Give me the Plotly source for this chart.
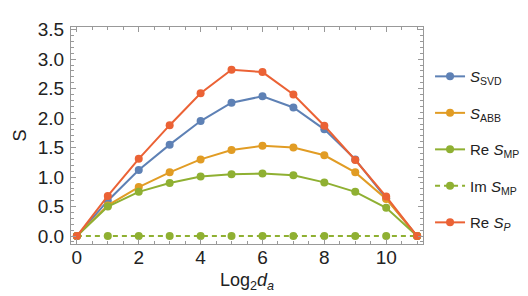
import plotly.graph_objects as go

x = list(range(12))
s_svd = [0, 0.60, 1.12, 1.55, 1.95, 2.26, 2.37, 2.18, 1.81, 1.30, 0.64, 0]
s_abb = [0, 0.52, 0.83, 1.08, 1.30, 1.46, 1.53, 1.50, 1.37, 1.08, 0.63, 0]
re_smp = [0, 0.50, 0.75, 0.90, 1.01, 1.05, 1.06, 1.03, 0.91, 0.75, 0.48, 0]
im_smp = [0, 0, 0, 0, 0, 0, 0, 0, 0, 0, 0, 0]
re_sp = [0, 0.68, 1.31, 1.88, 2.42, 2.82, 2.78, 2.40, 1.87, 1.29, 0.67, 0]

names = ["<i>S</i><sub>SVD</sub>", "<i>S</i><sub>ABB</sub>", "Re <i>S</i><sub>MP</sub>",
         "Im <i>S</i><sub>MP</sub>", "Re <i>S<sub>P</sub></i>"]
colors = ["#5E81B5", "#E19C24", "#8FB032", "#8FB032", "#EB6235"]
dashes = ["solid", "solid", "solid", "5px,4px", "solid"]
series = [s_svd, s_abb, re_smp, im_smp, re_sp]

fig = go.Figure()
for i, (nm, c, d, ys) in enumerate(zip(names, colors, dashes, series)):
    fig.add_trace(go.Scatter(
        x=x, y=ys, name=nm, mode="lines+markers",
        line=dict(color=c, width=2, dash=d),
        marker=dict(color=c, size=8),
        legendgroup=str(i),
    ))

font_family = "Liberation Sans, Arial"
axis_common = dict(
    showline=True, linecolor="#999999", linewidth=1, mirror="allticks",
    ticks="inside", tickcolor="#999999", ticklen=5, tickwidth=1,
    showgrid=False, zeroline=False,
    tickfont=dict(family=font_family, size=19, color="#222222"),
)
fig.update_xaxes(range=[-0.19, 11.19], dtick=2, tick0=0, ticklabelstandoff=-4,
                 minor=dict(dtick=0.5, ticklen=3, tickcolor="#999999", ticks="inside"),
                 title=dict(text="Log<sub>2</sub><i>d<sub>a</sub></i>",
                            font=dict(family=font_family, size=18, color="#222222"),
                            standoff=6),
                 **axis_common)
fig.update_yaxes(range=[-0.134, 3.544], dtick=0.5, tick0=0, tickformat=".1f",
                 ticklabelstandoff=2,
                 minor=dict(dtick=0.1, ticklen=3, tickcolor="#999999", ticks="inside"),
                 title=dict(text="S", font=dict(family=font_family, size=18, color="#222222"),
                            standoff=6),
                 **axis_common)

fig.update_layout(
    width=528, height=296,
    margin=dict(l=62, r=104, t=11, b=60),
    plot_bgcolor="white", paper_bgcolor="white",
    legend=dict(x=1.02, y=0.435, yanchor="middle", xanchor="left",
                font=dict(family=font_family, size=15, color="#222222"),
                tracegroupgap=14, itemwidth=30, bgcolor="rgba(0,0,0,0)"),
    showlegend=True,
)
fig.write_html("out.html")
